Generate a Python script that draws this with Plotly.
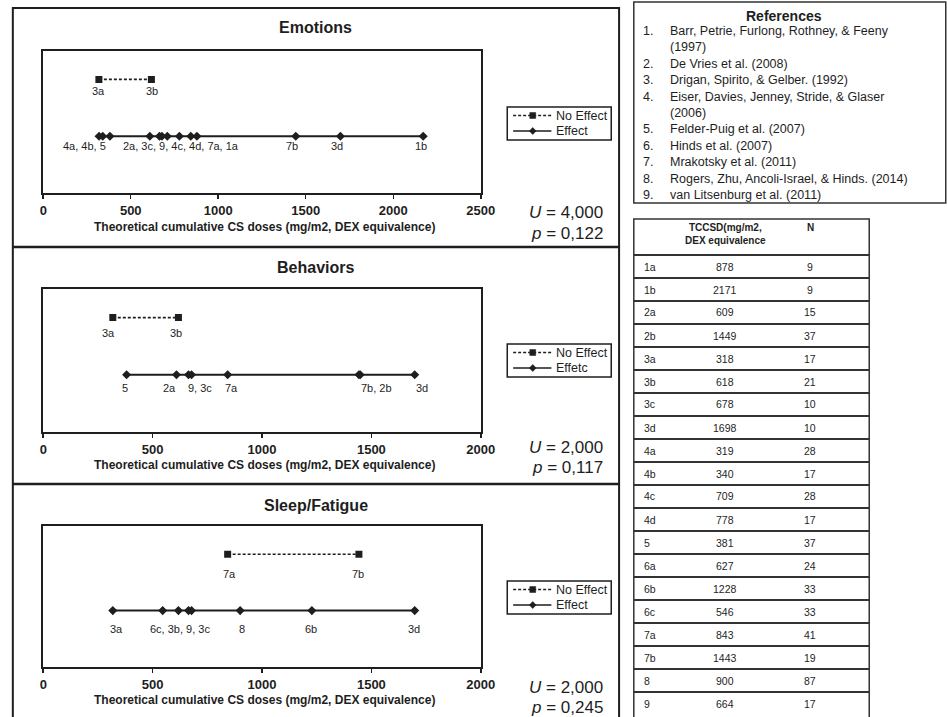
import plotly.graph_objects as go

W, H = 947, 717
FONT = "Liberation Sans, Arial, sans-serif"
INK = "#1e1e1e"

# ---------------- data ----------------
study_ids = ["1a", "1b", "2a", "2b", "3a", "3b", "3c", "3d", "4a", "4b",
             "4c", "4d", "5", "6a", "6b", "6c", "7a", "7b", "8", "9"]
tccsd = [878, 2171, 609, 1449, 318, 618, 678, 1698, 319, 340,
         709, 778, 381, 627, 1228, 546, 843, 1443, 900, 664]
n_values = [9, 9, 15, 37, 17, 21, 10, 10, 28, 17,
            28, 17, 37, 24, 33, 33, 41, 19, 87, 17]
dose = dict(zip(study_ids, tccsd))

panel_titles = ["Emotions", "Behaviors", "Sleep/Fatigue"]
x_max = [2500, 2000, 2000]
u_stats = ["4,000", "2,000", "2,000"]
p_stats = ["0,122", "0,117", "0,245"]
no_effect_names = ["No Effect", "No Effect", "No Effect"]
effect_names = ["Effect", "Effetc", "Effect"]

no_effect_ids = [["3a", "3b"], ["3a", "3b"], ["7a", "7b"]]
effect_ids = [
    ["4a", "4b", "5", "2a", "9", "3c", "4c", "4d", "7a", "1a", "7b", "3d", "1b"],
    ["5", "2a", "9", "3c", "7a", "7b", "2b", "3d"],
    ["3a", "6c", "3b", "9", "3c", "8", "6b", "3d"],
]
no_effect_label_groups = [[["3a"], ["3b"]], [["3a"], ["3b"]], [["7a"], ["7b"]]]
effect_label_groups = [
    [["4a", "4b", "5"], ["2a", "3c", "9", "4c", "4d", "7a", "1a"], ["7b"], ["3d"], ["1b"]],
    [["5"], ["2a"], ["9", "3c"], ["7a"], ["7b", "2b"], ["3d"]],
    [["3a"], ["6c", "3b", "9", "3c"], ["8"], ["6b"], ["3d"]],
]

references = [
    ("1.", "Barr, Petrie, Furlong, Rothney, & Feeny"),
    ("", "(1997)"),
    ("2.", "De Vries et al. (2008)"),
    ("3.", "Drigan, Spirito, & Gelber. (1992)"),
    ("4.", "Eiser, Davies, Jenney, Stride, & Glaser"),
    ("", "(2006)"),
    ("5.", "Felder-Puig et al. (2007)"),
    ("6.", "Hinds et al. (2007)"),
    ("7.", "Mrakotsky et al. (2011)"),
    ("8.", "Rogers, Zhu, Ancoli-Israel, & Hinds. (2014)"),
    ("9.", "van Litsenburg et al. (2011)"),
]
table_header = ["TCCSD(mg/m2,<br>DEX equivalence", "N"]

# ---------------- layout geometry (pixels) ----------------
plot_left, plot_right = 40, 486
plot_tops = [51, 289, 526]
plot_bottoms = [193, 432, 667]
title_y = [28, 267, 505]
axis_title_y = [227, 465, 700]
legend_top = [107, 344, 581]
stat_y = [(212, 233), (447, 467), (687, 707)]
label_gap = [(12, 10), (15, 13), (20, 18)]
no_effect_label_shift = [[0, 1], [-4, -2], [2, -1]]
effect_label_shift = [[-19, 9, -4, -3, -2], [-2, -7, 10, 4, 17, 7], [4, 0, 2, -1, -1]]
ROW_NO, ROW_EFF = 0.8, 0.4


def px(x):
    return x / W


def py(y):
    return 1 - y / H


fig = go.Figure()
annotations = []
shapes = []


def rect(x0, y0, x1, y1, width=2, color=INK, fill="rgba(0,0,0,0)"):
    return dict(type="rect", xref="paper", yref="paper", x0=px(x0), x1=px(x1),
                y0=py(y1), y1=py(y0), line=dict(color=color, width=width),
                fillcolor=fill, layer="above")


def hline(x0, x1, y, width=2, color=INK, dash="solid"):
    return dict(type="line", xref="paper", yref="paper", x0=px(x0), x1=px(x1),
                y0=py(y), y1=py(y), line=dict(color=color, width=width, dash=dash),
                layer="above")


def text(x, y, s, size, anchor="center", ref=("paper", "paper"), **kw):
    d = dict(x=x, y=y, xref=ref[0], yref=ref[1], text=s, showarrow=False,
             xanchor=anchor, yanchor="middle", font=dict(size=size, color=INK, family=FONT))
    d.update(kw)
    return d


for i in range(3):
    sfx = "" if i == 0 else str(i + 1)
    xa, ya = "x" + sfx, "y" + sfx
    ne = sorted(no_effect_ids[i], key=lambda s: dose[s])
    ef = sorted(effect_ids[i], key=lambda s: dose[s])
    fig.add_trace(go.Scatter(
        x=[dose[s] for s in ne], y=[ROW_NO] * len(ne), mode="lines+markers",
        name=no_effect_names[i], xaxis=xa, yaxis=ya, showlegend=False,
        line=dict(color=INK, width=1.6, dash="3px,2px"),
        marker=dict(symbol="square", size=7, color=INK), hoverinfo="skip"))
    fig.add_trace(go.Scatter(
        x=[dose[s] for s in ef], y=[ROW_EFF] * len(ef), mode="lines+markers",
        name=effect_names[i], xaxis=xa, yaxis=ya, showlegend=False,
        line=dict(color=INK, width=2),
        marker=dict(symbol="diamond", size=7, color=INK), hoverinfo="skip"))

    # point labels
    for grp, sh in zip(no_effect_label_groups[i], no_effect_label_shift[i]):
        annotations.append(text(sum(dose[s] for s in grp) / len(grp), ROW_NO, ", ".join(grp), 11,
                                ref=(xa, ya), xshift=sh, yshift=-label_gap[i][0]))
    for grp, sh in zip(effect_label_groups[i], effect_label_shift[i]):
        annotations.append(text(sum(dose[s] for s in grp) / len(grp), ROW_EFF, ", ".join(grp), 11,
                                ref=(xa, ya), xshift=sh, yshift=-label_gap[i][1]))

    annotations.append(text(px(318), py(title_y[i]), "<b>%s</b>" % panel_titles[i], 16))
    annotations.append(text(px((plot_left + plot_right) / 2 + 3), py(axis_title_y[i]),
                            "<b>Theoretical cumulative CS doses (mg/m2, DEX equivalence)</b>", 12))
    annotations.append(text(px(613), py(stat_y[i][0]), "<i>U</i> = %s" % u_stats[i], 17, anchor="right"))
    annotations.append(text(px(613), py(stat_y[i][1]), "<i>p</i> = %s" % p_stats[i], 17, anchor="right"))

    # legend box (drawn)
    lt = legend_top[i]
    shapes.append(rect(513, lt, 619, lt + 33, width=1.5))
    r1, r2 = lt + 8.5, lt + 24
    shapes.append(hline(519, 558, r1, width=1.4, dash="3px,2px"))
    shapes.append(rect(536, r1 - 3, 542, r1 + 3, width=0.5, fill=INK))
    shapes.append(hline(519, 558, r2, width=1.4))
    shapes.append(dict(type="path", xref="paper", yref="paper",
                       path="M %f,%f L %f,%f L %f,%f L %f,%f Z" % (
                           px(539), py(r2 - 3.5), px(542.5), py(r2), px(539), py(r2 + 3.5),
                           px(535.5), py(r2)),
                       fillcolor=INK, line=dict(color=INK, width=0.5), layer="above"))
    annotations.append(text(px(561), py(r1), no_effect_names[i], 12.5, anchor="left"))
    annotations.append(text(px(561), py(r2), effect_names[i], 12.5, anchor="left"))

    axis_common = dict(showgrid=False, zeroline=False, showline=True, mirror=True,
                       linecolor=INK, linewidth=2)
    fig.update_layout(**{
        "xaxis" + sfx: dict(domain=[px(plot_left), px(plot_right)], anchor=ya,
                            range=[0, x_max[i]], tickmode="linear", tick0=0, dtick=500,
                            ticks="outside", ticklen=4, tickwidth=1.5, tickcolor=INK,
                            tickfont=dict(size=13, color=INK, family=FONT, weight="bold"),
                            **axis_common),
        "yaxis" + sfx: dict(domain=[py(plot_bottoms[i]), py(plot_tops[i])], anchor=xa,
                            range=[0, 1], showticklabels=False, ticks="", **axis_common),
    })

# ---------------- frames ----------------
shapes.append(rect(9, 8, 627, 722, width=2))
shapes.append(hline(9, 627, 247, width=2.5))
shapes.append(hline(9, 627, 484, width=2.5))

# references box
shapes.append(rect(642, 2, 960, 203, width=1.5, color="#333"))
annotations.append(text(px(795), py(16), "<b>References</b>", 14))
ref_y0, ref_step = 31, 16.4
for k, (num, txt) in enumerate(references):
    yy = py(ref_y0 + k * ref_step)
    if num:
        annotations.append(text(px(649), yy, num, 12.5, anchor="left"))
    annotations.append(text(px(677), yy, txt, 12.5, anchor="left"))

# table
tab_left, tab_right, tab_top, head_bottom, row_h = 642, 882, 219, 255, 23
shapes.append(rect(tab_left, tab_top, tab_right, 722, width=1.5, color="#333"))
col_label_x, col_dose_x, col_n_x = 650, 735, 822
annotations.append(text(px(col_dose_x), py(234), "<b>%s</b>" % table_header[0], 10))
annotations.append(text(px(col_n_x), py(227), "<b>%s</b>" % table_header[1], 10))
for r, (sid, d, n) in enumerate(zip(study_ids, tccsd, n_values)):
    top = head_bottom + r * row_h
    shapes.append(hline(tab_left, tab_right, top, width=2, color="#333"))
    yc = py(top + row_h / 2)
    annotations.append(text(px(col_label_x), yc, sid, 10.5, anchor="left"))
    annotations.append(text(px(col_dose_x), yc, str(d), 10.5))
    annotations.append(text(px(col_n_x), yc, str(n), 10.5))

fig.update_layout(
    width=W, height=H, margin=dict(l=0, r=0, t=0, b=0),
    paper_bgcolor="white", plot_bgcolor="white",
    font=dict(family=FONT, color=INK),
    annotations=annotations, shapes=shapes, showlegend=False,
)

# place the figure at the page origin so that its pixels match the window
fig.write_html("out.html",
               config={"displayModeBar": False, "staticPlot": True},
               post_script="document.body.style.margin='0';document.body.style.padding='0';"
                           "document.body.style.overflow='hidden';")
